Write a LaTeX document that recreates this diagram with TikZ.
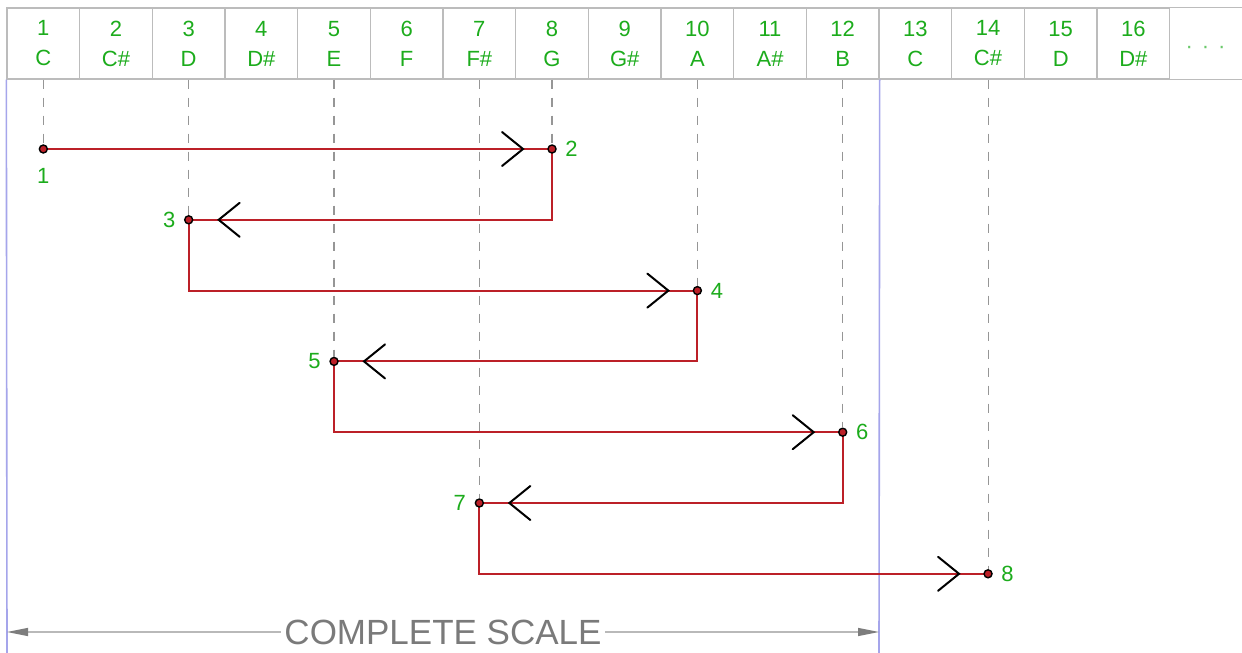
\documentclass[tikz,border=0pt]{standalone}
\usepackage{fontspec}
\setmainfont{Liberation Sans}
\usetikzlibrary{arrows.meta,calc}
\definecolor{notegreen}{RGB}{28,172,28}
\definecolor{gridgray}{RGB}{188,188,188}
\definecolor{guidegray}{RGB}{150,150,150}
\definecolor{routered}{RGB}{188,32,40}
\definecolor{bandblue}{RGB}{165,165,235}
\definecolor{dimgray}{RGB}{185,185,185}
\definecolor{dimtext}{RGB}{122,122,122}
\definecolor{tipgray}{RGB}{125,125,125}
\begin{document}
\begin{tikzpicture}[x=1pt,y=-1pt,
  cell/.style={draw=gridgray,line width=1.3pt,minimum width=72.67pt,minimum height=71pt,
    inner sep=0pt,align=center,text=notegreen,font=\fontsize{22}{30}\selectfont},
  dotcell/.style={inner sep=0pt,text=notegreen!65,font=\fontsize{22}{26}\selectfont},
  guide/.style={draw=guidegray,line width=1.1pt,dash pattern=on 9pt off 9pt},
  route/.style={draw=routered,line width=2pt},
  chev/.style={draw=black,line width=2pt,line cap=round,line join=miter},
  pt/.style={circle,draw=black,fill=routered,line width=1.4pt,minimum size=8pt,inner sep=0pt},
  lbl/.style={text=notegreen,inner sep=0pt,font=\fontsize{22}{26}\selectfont},
  band/.style={draw=bandblue,line width=1.6pt},
  dim/.style={draw=dimgray,line width=1.2pt,
    {Triangle[length=21pt,width=8pt,color=tipgray]}-{Triangle[length=21pt,width=8pt,color=tipgray]}},
  dimlabel/.style={fill=white,inner sep=3pt,text=dimtext,font=\fontsize{35}{40}\selectfont}]
\clip (0,0) rectangle (1242,653);
\fill[white] (0,0) rectangle (1242,653);

% header: step number and note name
\foreach \n/\nm [count=\i] in {1/C,2/C\#,3/D,4/D\#,5/E,6/F,7/F\#,8/G,9/G\#,10/A,11/A\#,12/B,13/C,14/C\#,15/D,16/D\#}
  \node[cell] (h\i) at ({7+72.67*(\i-0.5)},43.5) {\n\\\nm};
\node[dotcell] (h17) at (1205.5,50) {·\hskip9pt·\hskip9pt·};
\draw[draw=gridgray,line width=1.3pt] (h16.north east) -- ++(90,0) (h16.south east) -- ++(90,0);

% octave boundaries
\coordinate (bl) at (7,653);
\coordinate (br) at (879,653);
\draw[band] (h1.south west) -- (bl);
\draw[band] (h12.south east) -- (br);

% rows of the walk
\coordinate (r1) at (0,149);
\coordinate (r2) at (0,219.8);
\coordinate (r3) at (0,290.6);
\coordinate (r4) at (0,361.4);
\coordinate (r5) at (0,432.2);
\coordinate (r6) at (0,503);
\coordinate (r7) at (0,573.8);

% route first, points on top
\path (h1 |- r1) coordinate (c1) (h8 |- r1) coordinate (c2) (h3 |- r2) coordinate (c3)
      (h10 |- r3) coordinate (c4) (h5 |- r4) coordinate (c5) (h12 |- r5) coordinate (c6)
      (h7 |- r6) coordinate (c7) (h14 |- r7) coordinate (c8);
\draw[route] (c1) -- (c2) |- (c3) |- (c4) |- (c5) |- (c6) |- (c7) |- (c8);

\node[pt,label={[lbl,label distance=14pt]below:1}] (p1) at (c1) {};
\node[pt,label={[lbl,label distance=8.5pt]right:2}] (p2) at (c2) {};
\node[pt,label={[lbl,label distance=8.5pt]left:3}] (p3) at (c3) {};
\node[pt,label={[lbl,label distance=8.5pt]right:4}] (p4) at (c4) {};
\node[pt,label={[lbl,label distance=8.5pt]left:5}] (p5) at (c5) {};
\node[pt,label={[lbl,label distance=8.5pt]right:6}] (p6) at (c6) {};
\node[pt,label={[lbl,label distance=8.5pt]left:7}] (p7) at (c7) {};
\node[pt,label={[lbl,label distance=8.5pt]right:8}] (p8) at (c8) {};

% guides from the header down to each point
\draw[guide] (h1.south) -- (p1);
\draw[guide] (h8.south) -- (p2);
\draw[guide] (h3.south) -- (p3);
\draw[guide] (h10.south) -- (p4);
\draw[guide] (h5.south) -- (p5);
\draw[guide] (h12.south) -- (p6);
\draw[guide] (h7.south) -- (p7);
\draw[guide] (h14.south) -- (p8);

% direction chevrons
\foreach \p in {p2,p4,p6,p8}
  \draw[chev] ([shift={(-50,-17)}]\p.center) -- ([shift={(-29,0)}]\p.center) -- ([shift={(-50,17)}]\p.center);
\foreach \p in {p3,p5,p7}
  \draw[chev] ([shift={(51,-17)}]\p.center) -- ([shift={(30,0)}]\p.center) -- ([shift={(51,17)}]\p.center);

% span of one octave
\coordinate (dl) at (7,632);
\coordinate (dr) at (879,632);
\draw[dim] (dl) -- node[dimlabel] (dtext) {COMPLETE SCALE} (dr);
\end{tikzpicture}
\end{document}
